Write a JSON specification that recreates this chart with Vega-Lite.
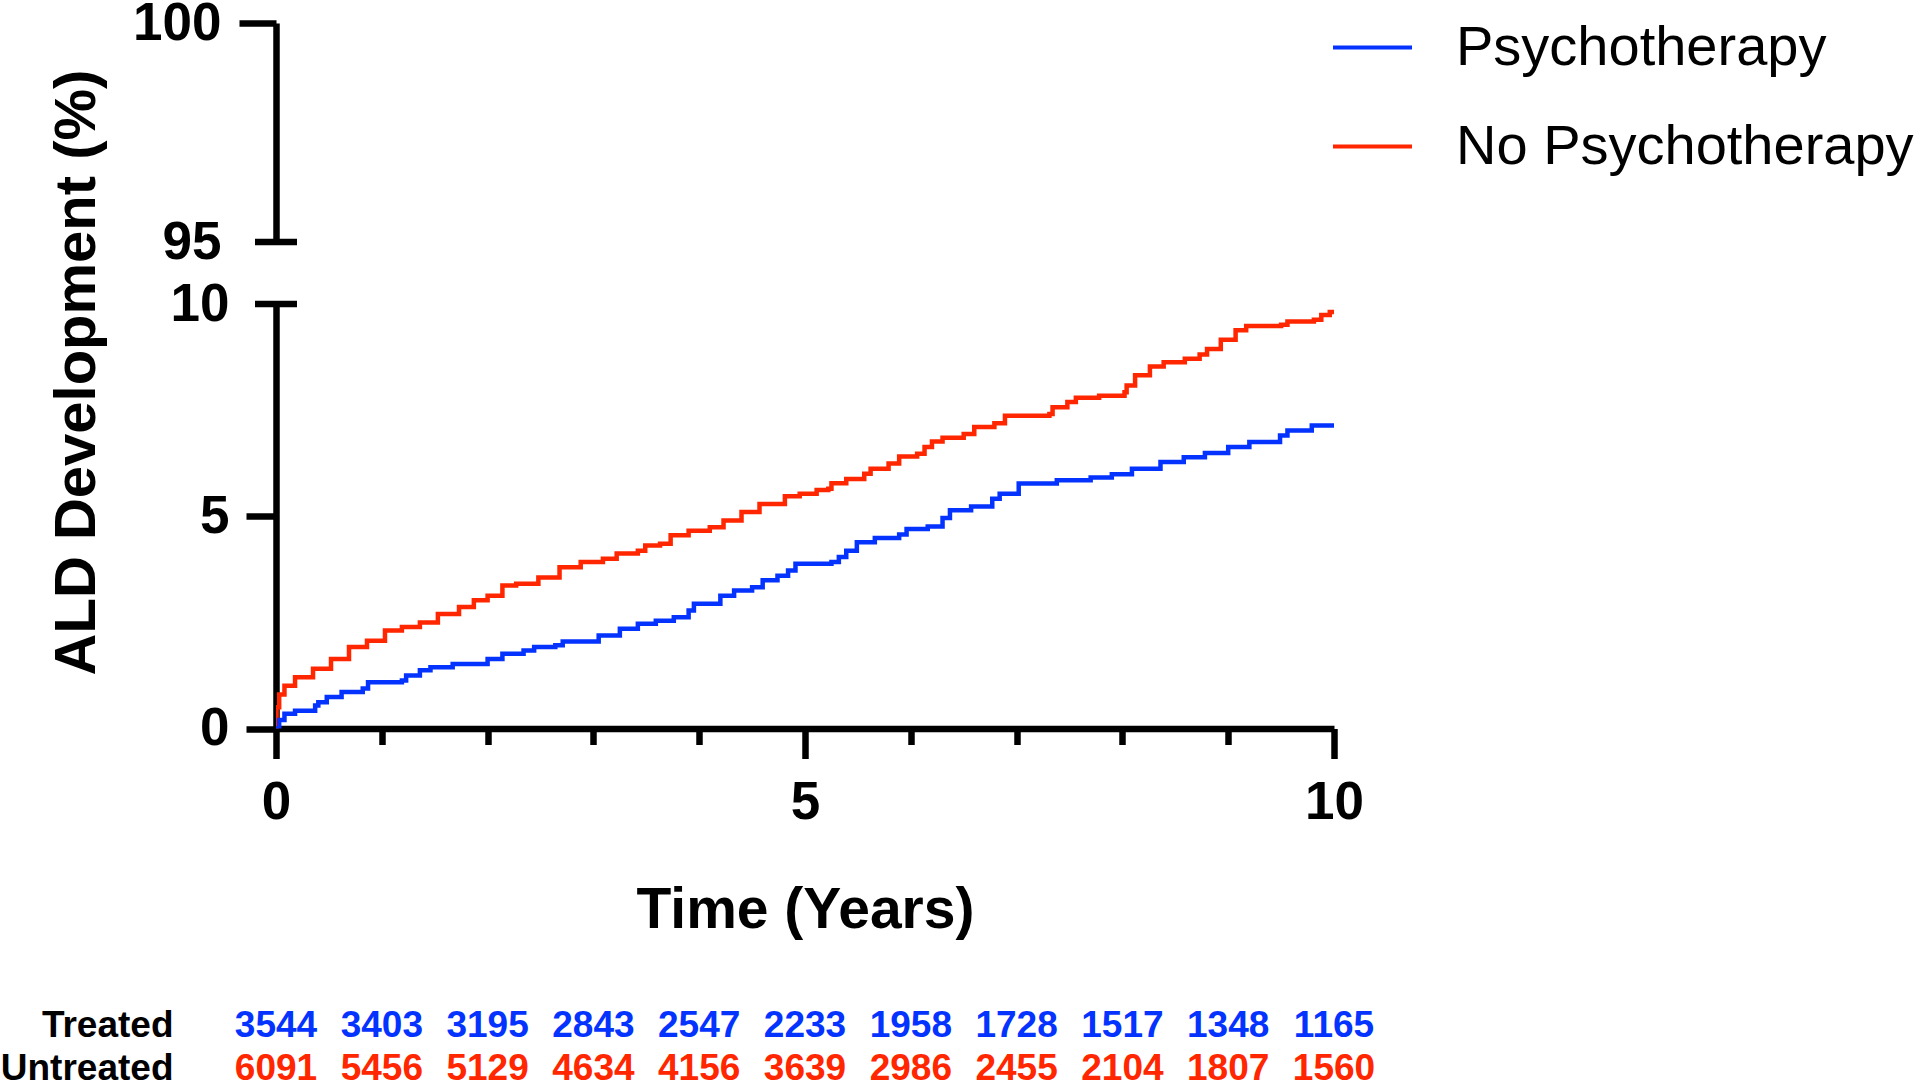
{
  "$schema": "https://vega.github.io/schema/vega-lite/v6.json",
  "background": "white",
  "padding": {"top": -3, "left": 0, "right": 0, "bottom": 0},
  "spacing": 62,
  "bounds": "flush",
  "config": {
    "font": "Liberation Sans",
    "view": {"stroke": null},
    "axis": {"grid": false, "domainColor": "black", "tickColor": "black", "labelColor": "black", "titleColor": "black", "labelFont": "Liberation Sans", "titleFont": "Liberation Sans"}
  },
  "datasets": {
    "km": [
      {"group": "No Psychotherapy", "year": 0, "pct": 0},
      {"group": "No Psychotherapy", "year": 0.005, "pct": 0.5},
      {"group": "No Psychotherapy", "year": 0.03, "pct": 0.8},
      {"group": "No Psychotherapy", "year": 0.08, "pct": 1.01},
      {"group": "No Psychotherapy", "year": 0.18, "pct": 1.21},
      {"group": "No Psychotherapy", "year": 0.35, "pct": 1.41},
      {"group": "No Psychotherapy", "year": 0.52, "pct": 1.64},
      {"group": "No Psychotherapy", "year": 0.69, "pct": 1.92},
      {"group": "No Psychotherapy", "year": 0.86, "pct": 2.07},
      {"group": "No Psychotherapy", "year": 1.03, "pct": 2.31},
      {"group": "No Psychotherapy", "year": 1.19, "pct": 2.39},
      {"group": "No Psychotherapy", "year": 1.36, "pct": 2.5},
      {"group": "No Psychotherapy", "year": 1.53, "pct": 2.7},
      {"group": "No Psychotherapy", "year": 1.73, "pct": 2.86},
      {"group": "No Psychotherapy", "year": 1.87, "pct": 3.02},
      {"group": "No Psychotherapy", "year": 2.0, "pct": 3.13},
      {"group": "No Psychotherapy", "year": 2.14, "pct": 3.37},
      {"group": "No Psychotherapy", "year": 2.27, "pct": 3.41},
      {"group": "No Psychotherapy", "year": 2.48, "pct": 3.56},
      {"group": "No Psychotherapy", "year": 2.68, "pct": 3.8},
      {"group": "No Psychotherapy", "year": 2.88, "pct": 3.92},
      {"group": "No Psychotherapy", "year": 3.09, "pct": 4.0},
      {"group": "No Psychotherapy", "year": 3.22, "pct": 4.12},
      {"group": "No Psychotherapy", "year": 3.42, "pct": 4.19},
      {"group": "No Psychotherapy", "year": 3.49, "pct": 4.31},
      {"group": "No Psychotherapy", "year": 3.63, "pct": 4.35},
      {"group": "No Psychotherapy", "year": 3.73, "pct": 4.55},
      {"group": "No Psychotherapy", "year": 3.9, "pct": 4.66},
      {"group": "No Psychotherapy", "year": 4.1, "pct": 4.74},
      {"group": "No Psychotherapy", "year": 4.23, "pct": 4.9},
      {"group": "No Psychotherapy", "year": 4.4, "pct": 5.1},
      {"group": "No Psychotherapy", "year": 4.57, "pct": 5.29},
      {"group": "No Psychotherapy", "year": 4.81, "pct": 5.47},
      {"group": "No Psychotherapy", "year": 4.95, "pct": 5.53},
      {"group": "No Psychotherapy", "year": 5.11, "pct": 5.62},
      {"group": "No Psychotherapy", "year": 5.22, "pct": 5.65},
      {"group": "No Psychotherapy", "year": 5.25, "pct": 5.78},
      {"group": "No Psychotherapy", "year": 5.39, "pct": 5.88},
      {"group": "No Psychotherapy", "year": 5.56, "pct": 6.0},
      {"group": "No Psychotherapy", "year": 5.62, "pct": 6.12},
      {"group": "No Psychotherapy", "year": 5.79, "pct": 6.24},
      {"group": "No Psychotherapy", "year": 5.89, "pct": 6.41},
      {"group": "No Psychotherapy", "year": 6.06, "pct": 6.47},
      {"group": "No Psychotherapy", "year": 6.13, "pct": 6.63},
      {"group": "No Psychotherapy", "year": 6.2, "pct": 6.76},
      {"group": "No Psychotherapy", "year": 6.3, "pct": 6.85},
      {"group": "No Psychotherapy", "year": 6.5, "pct": 6.94},
      {"group": "No Psychotherapy", "year": 6.6, "pct": 7.1},
      {"group": "No Psychotherapy", "year": 6.79, "pct": 7.19},
      {"group": "No Psychotherapy", "year": 6.89, "pct": 7.37},
      {"group": "No Psychotherapy", "year": 7.31, "pct": 7.41},
      {"group": "No Psychotherapy", "year": 7.34, "pct": 7.57},
      {"group": "No Psychotherapy", "year": 7.48, "pct": 7.69},
      {"group": "No Psychotherapy", "year": 7.56, "pct": 7.79},
      {"group": "No Psychotherapy", "year": 7.78, "pct": 7.84},
      {"group": "No Psychotherapy", "year": 8.02, "pct": 7.92},
      {"group": "No Psychotherapy", "year": 8.04, "pct": 8.08},
      {"group": "No Psychotherapy", "year": 8.12, "pct": 8.32},
      {"group": "No Psychotherapy", "year": 8.26, "pct": 8.53},
      {"group": "No Psychotherapy", "year": 8.39, "pct": 8.63},
      {"group": "No Psychotherapy", "year": 8.59, "pct": 8.71},
      {"group": "No Psychotherapy", "year": 8.73, "pct": 8.81},
      {"group": "No Psychotherapy", "year": 8.8, "pct": 8.94},
      {"group": "No Psychotherapy", "year": 8.93, "pct": 9.16},
      {"group": "No Psychotherapy", "year": 9.07, "pct": 9.38},
      {"group": "No Psychotherapy", "year": 9.17, "pct": 9.48},
      {"group": "No Psychotherapy", "year": 9.5, "pct": 9.51},
      {"group": "No Psychotherapy", "year": 9.56, "pct": 9.59},
      {"group": "No Psychotherapy", "year": 9.81, "pct": 9.63},
      {"group": "No Psychotherapy", "year": 9.88, "pct": 9.74},
      {"group": "No Psychotherapy", "year": 9.96, "pct": 9.81},
      {"group": "No Psychotherapy", "year": 10.0, "pct": 9.81},
      {"group": "Psychotherapy", "year": 0, "pct": 0},
      {"group": "Psychotherapy", "year": 0.03, "pct": 0.2},
      {"group": "Psychotherapy", "year": 0.08, "pct": 0.35},
      {"group": "Psychotherapy", "year": 0.18, "pct": 0.42},
      {"group": "Psychotherapy", "year": 0.37, "pct": 0.54},
      {"group": "Psychotherapy", "year": 0.4, "pct": 0.62},
      {"group": "Psychotherapy", "year": 0.48, "pct": 0.74},
      {"group": "Psychotherapy", "year": 0.62, "pct": 0.86},
      {"group": "Psychotherapy", "year": 0.82, "pct": 0.94},
      {"group": "Psychotherapy", "year": 0.87, "pct": 1.09},
      {"group": "Psychotherapy", "year": 1.19, "pct": 1.13},
      {"group": "Psychotherapy", "year": 1.23, "pct": 1.25},
      {"group": "Psychotherapy", "year": 1.36, "pct": 1.37},
      {"group": "Psychotherapy", "year": 1.46, "pct": 1.44},
      {"group": "Psychotherapy", "year": 1.67, "pct": 1.52},
      {"group": "Psychotherapy", "year": 2.0, "pct": 1.64},
      {"group": "Psychotherapy", "year": 2.14, "pct": 1.76},
      {"group": "Psychotherapy", "year": 2.34, "pct": 1.84},
      {"group": "Psychotherapy", "year": 2.44, "pct": 1.92},
      {"group": "Psychotherapy", "year": 2.64, "pct": 1.96},
      {"group": "Psychotherapy", "year": 2.71, "pct": 2.05},
      {"group": "Psychotherapy", "year": 3.05, "pct": 2.19},
      {"group": "Psychotherapy", "year": 3.25, "pct": 2.35},
      {"group": "Psychotherapy", "year": 3.42, "pct": 2.47},
      {"group": "Psychotherapy", "year": 3.59, "pct": 2.54},
      {"group": "Psychotherapy", "year": 3.76, "pct": 2.62},
      {"group": "Psychotherapy", "year": 3.9, "pct": 2.78},
      {"group": "Psychotherapy", "year": 3.95, "pct": 2.94},
      {"group": "Psychotherapy", "year": 4.2, "pct": 3.13},
      {"group": "Psychotherapy", "year": 4.33, "pct": 3.25},
      {"group": "Psychotherapy", "year": 4.5, "pct": 3.33},
      {"group": "Psychotherapy", "year": 4.6, "pct": 3.49},
      {"group": "Psychotherapy", "year": 4.74, "pct": 3.6},
      {"group": "Psychotherapy", "year": 4.84, "pct": 3.72},
      {"group": "Psychotherapy", "year": 4.91, "pct": 3.88},
      {"group": "Psychotherapy", "year": 5.25, "pct": 3.92},
      {"group": "Psychotherapy", "year": 5.32, "pct": 4.04},
      {"group": "Psychotherapy", "year": 5.39, "pct": 4.19},
      {"group": "Psychotherapy", "year": 5.49, "pct": 4.39},
      {"group": "Psychotherapy", "year": 5.66, "pct": 4.49},
      {"group": "Psychotherapy", "year": 5.89, "pct": 4.57},
      {"group": "Psychotherapy", "year": 5.96, "pct": 4.7},
      {"group": "Psychotherapy", "year": 6.16, "pct": 4.76},
      {"group": "Psychotherapy", "year": 6.3, "pct": 4.96},
      {"group": "Psychotherapy", "year": 6.37, "pct": 5.14},
      {"group": "Psychotherapy", "year": 6.57, "pct": 5.23},
      {"group": "Psychotherapy", "year": 6.77, "pct": 5.41},
      {"group": "Psychotherapy", "year": 6.84, "pct": 5.53},
      {"group": "Psychotherapy", "year": 7.02, "pct": 5.77},
      {"group": "Psychotherapy", "year": 7.38, "pct": 5.85},
      {"group": "Psychotherapy", "year": 7.7, "pct": 5.91},
      {"group": "Psychotherapy", "year": 7.9, "pct": 5.99},
      {"group": "Psychotherapy", "year": 8.09, "pct": 6.12},
      {"group": "Psychotherapy", "year": 8.36, "pct": 6.28},
      {"group": "Psychotherapy", "year": 8.58, "pct": 6.39},
      {"group": "Psychotherapy", "year": 8.78, "pct": 6.49},
      {"group": "Psychotherapy", "year": 9.0, "pct": 6.63},
      {"group": "Psychotherapy", "year": 9.2, "pct": 6.75},
      {"group": "Psychotherapy", "year": 9.49, "pct": 6.9},
      {"group": "Psychotherapy", "year": 9.56, "pct": 7.02},
      {"group": "Psychotherapy", "year": 9.79, "pct": 7.14},
      {"group": "Psychotherapy", "year": 10.0, "pct": 7.15}
    ],
    "risk": [
      {"row": "Treated", "year": 0, "n": 3544},
      {"row": "Treated", "year": 1, "n": 3403},
      {"row": "Treated", "year": 2, "n": 3195},
      {"row": "Treated", "year": 3, "n": 2843},
      {"row": "Treated", "year": 4, "n": 2547},
      {"row": "Treated", "year": 5, "n": 2233},
      {"row": "Treated", "year": 6, "n": 1958},
      {"row": "Treated", "year": 7, "n": 1728},
      {"row": "Treated", "year": 8, "n": 1517},
      {"row": "Treated", "year": 9, "n": 1348},
      {"row": "Treated", "year": 10, "n": 1165},
      {"row": "Untreated", "year": 0, "n": 6091},
      {"row": "Untreated", "year": 1, "n": 5456},
      {"row": "Untreated", "year": 2, "n": 5129},
      {"row": "Untreated", "year": 3, "n": 4634},
      {"row": "Untreated", "year": 4, "n": 4156},
      {"row": "Untreated", "year": 5, "n": 3639},
      {"row": "Untreated", "year": 6, "n": 2986},
      {"row": "Untreated", "year": 7, "n": 2455},
      {"row": "Untreated", "year": 8, "n": 2104},
      {"row": "Untreated", "year": 9, "n": 1807},
      {"row": "Untreated", "year": 10, "n": 1560}
    ]
  },
  "resolve": {
    "scale": {"x": "independent", "y": "independent", "color": "independent"},
    "legend": {"color": "independent"}
  },
  "vconcat": [
    {
      "width": 1058,
      "height": 219,
      "layer": [
        {
          "data": {"name": "km"},
          "mark": {"type": "line", "interpolate": "step-after", "strokeWidth": 4.5, "clip": true},
          "encoding": {
            "x": {"field": "year", "type": "quantitative", "scale": {"domain": [0, 10], "nice": false}, "axis": null},
            "y": {
              "field": "pct", "type": "quantitative",
              "scale": {"domain": [95, 100], "nice": false, "zero": false},
              "axis": {
                "values": [95, 100], "title": null, "format": "d",
                "tickSize": 37, "tickWidth": 6.5, "domainWidth": 6.5,
                "tickOpacity": {"condition": {"test": "datum.value == 95", "value": 0}, "value": 1},
                "labelFontSize": 53, "labelFontWeight": "bold", "labelPadding": 18,
                "labelFlush": false, "labelOverlap": false
              }
            },
            "color": {
              "field": "group", "type": "nominal",
              "scale": {"domain": ["Psychotherapy", "No Psychotherapy"], "range": ["#0433FF", "#FF2600"]},
              "legend": {
                "title": null, "orient": "none", "legendX": 1055, "legendY": -17,
                "symbolType": "stroke", "symbolSize": 6241, "symbolStrokeWidth": 4,
                "labelFontSize": 56, "labelFont": "Liberation Sans", "labelColor": "black",
                "labelOffset": 42, "rowPadding": 29, "padding": 0, "labelLimit": 700
              }
            }
          }
        },
        {
          "data": {"values": [{}]},
          "mark": {"type": "tick", "orient": "horizontal", "size": 42, "thickness": 6.5, "color": "black", "opacity": 1},
          "encoding": {
            "x": {"datum": 0, "type": "quantitative"},
            "y": {"datum": 95, "type": "quantitative"}
          }
        }
      ]
    },
    {
      "width": 1058,
      "height": 424.5,
      "layer": [
        {
          "data": {"name": "km"},
          "mark": {"type": "line", "interpolate": "step-after", "strokeWidth": 4.5, "clip": true},
          "encoding": {
            "x": {
              "field": "year", "type": "quantitative",
              "scale": {"domain": [0, 10], "nice": false},
              "axis": {
                "values": [0, 1, 2, 3, 4, 5, 6, 7, 8, 9, 10],
                "title": "Time (Years)", "format": "d",
                "tickSize": {"condition": {"test": "datum.value % 5 === 0", "value": 30}, "value": 16},
                "tickWidth": 6.5, "domainWidth": 6.5,
                "labelExpr": "datum.value % 5 === 0 ? datum.label : ''",
                "labelFontSize": 53, "labelFontWeight": "bold", "labelPadding": 18,
                "labelFlush": false, "labelOverlap": false,
                "titleFontSize": 57, "titleFontWeight": "bold",
                "titleX": 529, "titleY": 199, "titleBaseline": "alphabetic", "titleAlign": "center"
              }
            },
            "y": {
              "field": "pct", "type": "quantitative",
              "scale": {"domain": [0, 10], "nice": false},
              "axis": {
                "values": [0, 5, 10], "format": "d",
                "title": "ALD Development (%)",
                "tickSize": 30, "tickWidth": 6.5, "domainWidth": 6.5,
                "tickOpacity": {"condition": {"test": "datum.value == 10", "value": 0}, "value": 1},
                "labelFontSize": 53, "labelFontWeight": "bold", "labelPadding": 17,
                "labelFlush": false, "labelOverlap": false,
                "titleFontSize": 58, "titleFontWeight": "bold",
                "titleX": -182, "titleY": 68, "titleBaseline": "alphabetic", "titleAlign": "center", "titleAngle": -90
              }
            },
            "color": {
              "field": "group", "type": "nominal",
              "scale": {"domain": ["Psychotherapy", "No Psychotherapy"], "range": ["#0433FF", "#FF2600"]},
              "legend": null
            }
          }
        },
        {
          "data": {"values": [{}]},
          "mark": {"type": "tick", "orient": "horizontal", "size": 42, "thickness": 6.5, "color": "black", "opacity": 1},
          "encoding": {
            "x": {"datum": 0, "type": "quantitative"},
            "y": {"datum": 10, "type": "quantitative"}
          }
        }
      ]
    },
    {
      "width": 1058,
      "height": 277.6,
      "data": {"name": "risk"},
      "mark": {"type": "text", "fontSize": 37, "fontWeight": "bold", "font": "Liberation Sans"},
      "encoding": {
        "x": {"field": "year", "type": "quantitative", "scale": {"domain": [0, 10], "nice": false}, "axis": null},
        "y": {
          "field": "row", "type": "nominal",
          "scale": {"type": "point", "domain": ["Treated", "Untreated"], "range": [234.6, 277.6], "padding": 0},
          "axis": {
            "title": null, "domain": false, "ticks": false, "tickSize": 0,
            "labelFontSize": 37, "labelFontWeight": "bold", "labelPadding": 103, "labelLimit": 400
          }
        },
        "color": {
          "field": "row", "type": "nominal",
          "scale": {"domain": ["Treated", "Untreated"], "range": ["#0433FF", "#FF2600"]},
          "legend": null
        },
        "text": {"field": "n", "type": "quantitative", "format": "d"}
      }
    }
  ]
}
